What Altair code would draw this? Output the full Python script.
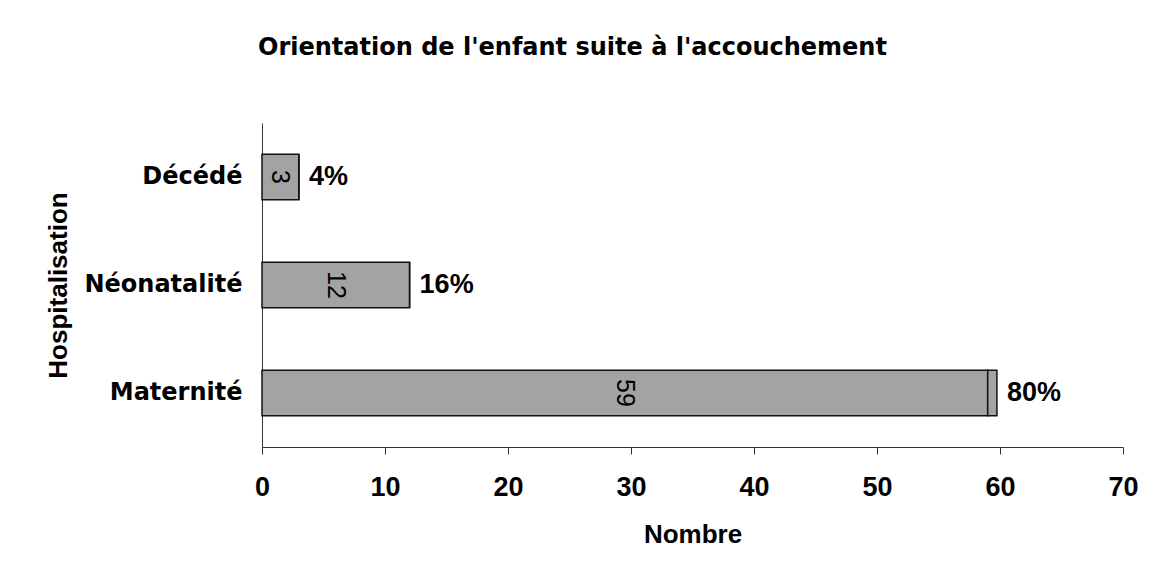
import altair as alt
import pandas as pd

categories = ["Décédé", "Néonatalité", "Maternité"]
counts = [3, 12, 59]
extra = [0, 0, 0.75]
percents = ["4%", "16%", "80%"]
x_ticks = [0, 10, 20, 30, 40, 50, 60, 70]

rows = []
for c, v, e in zip(categories, counts, extra):
    rows.append({"cat": c, "seg": "a", "val": v, "order": 1})
    rows.append({"cat": c, "seg": "b", "val": e, "order": 2})
bars_df = pd.DataFrame(rows)

lab_df = pd.DataFrame({
    "cat": categories,
    "count": counts,
    "total": [c + e for c, e in zip(counts, extra)],
    "pct": percents,
})

y_enc = alt.Y(
    "cat:N",
    sort=categories,
    scale=alt.Scale(paddingInner=0.58, paddingOuter=0.29),
    axis=alt.Axis(
        title="Hospitalisation",
        titleFont="Liberation Sans",
        titleFontSize=26,
        titleFontWeight="bold",
        titleColor="black",
        titleAngle=-90,
        titleX=-204,
        titleY=162,
        titleAlign="center",
        titleBaseline="middle",
        labelFont="DejaVu Sans",
        labelFontSize=24,
        labelFontWeight="bold",
        labelColor="black",
        labelPadding=20,
        ticks=False,
        domainColor="#333333",
        domainWidth=1,
        grid=False,
    ),
)

x_scale = alt.Scale(domain=[0, 70], nice=False)

bars = alt.Chart(bars_df).mark_bar(
    fill="#a3a3a3", stroke="#111111", strokeWidth=1.5
).encode(
    x=alt.X(
        "val:Q",
        stack="zero",
        scale=x_scale,
        axis=alt.Axis(
            values=x_ticks,
            title="Nombre",
            titleFont="Liberation Sans",
            titleFontSize=26,
            titleFontWeight="bold",
            titleColor="black",
            titleY=95,
            titleBaseline="alphabetic",
            labelFont="Liberation Sans",
            labelFontSize=27,
            labelFontWeight="bold",
            labelColor="black",
            labelPadding=20,
            labelFlush=False,
            labelOverlap=False,
            tickSize=7,
            tickColor="#333333",
            domainColor="#333333",
            domainWidth=1,
            grid=False,
        ),
    ),
    y=y_enc,
    order=alt.Order("order:Q"),
)

inside = alt.Chart(lab_df).mark_text(
    angle=90, font="Liberation Sans", fontSize=25, color="black",
    align="center", baseline="middle"
).transform_calculate(
    mid="datum.count / 2"
).encode(
    x=alt.X("mid:Q", scale=x_scale),
    y=alt.Y("cat:N", sort=categories),
    text="count:Q",
)

outside = alt.Chart(lab_df).mark_text(
    font="Liberation Sans", fontSize=27, fontWeight="bold", color="black",
    align="left", baseline="middle", dx=10
).encode(
    x=alt.X("total:Q", scale=x_scale),
    y=alt.Y("cat:N", sort=categories),
    text="pct:N",
)

chart = alt.layer(bars, inside, outside).properties(
    width=861,
    height=324,
    background="white",
    autosize=alt.AutoSizeParams(type="none"),
    padding={"left": 254, "top": 115, "right": 27, "bottom": 108},
    title=alt.TitleParams(
        "Orientation de l'enfant suite à l'accouchement",
        font="DejaVu Sans",
        fontSize=24,
        fontWeight="bold",
        color="black",
        anchor="start",
        frame="group",
        dx=-4,
        offset=44,
        baseline="alphabetic",
    ),
).configure_view(stroke=None, strokeWidth=0)

chart.save("out.html", embed_options={"renderer": "svg", "actions": False})
